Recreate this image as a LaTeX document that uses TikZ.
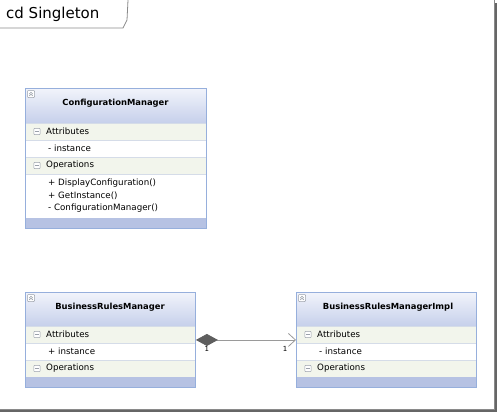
\documentclass[tikz,border=0pt]{standalone}
\usepackage{fontspec}
\setmainfont{DejaVu Sans}
\usetikzlibrary{positioning,arrows.meta}
\definecolor{classborder}{HTML}{96AFDC}
\definecolor{headtop}{HTML}{F2F4FB}
\definecolor{headbot}{HTML}{C6D0EB}
\definecolor{bandfill}{HTML}{F2F5EC}
\definecolor{bandline}{HTML}{D5DCE8}
\definecolor{footfill}{HTML}{B6C2E3}
\definecolor{framegray}{HTML}{8A8A8A}
\definecolor{assocgray}{HTML}{9A9A9A}
\definecolor{diamondgray}{HTML}{5E5E5E}
\definecolor{icongray}{HTML}{9AA0AA}
\begin{document}
\begin{tikzpicture}[x=1pt,y=-1pt,
    font=\fontsize{8.7}{10}\selectfont,
    classbox/.style={draw=classborder, line width=0.9pt, inner sep=0pt, anchor=north west},
    header/.style={top color=headtop, bottom color=headbot},
    band/.style={fill=bandfill},
    foot/.style={fill=footfill},
    sepline/.style={draw=bandline, line width=0.5pt},
    secname/.style={anchor=west, inner sep=0pt, text=black},
    member/.style={anchor=west, inner sep=0pt, text=black},
    classtitle/.style={inner sep=0pt, font=\fontsize{8.4}{10}\selectfont\bfseries, text=black},
    mult/.style={inner sep=0.5pt, font=\fontsize{7}{8}\selectfont},
    assoc/.style={draw=assocgray, line width=0.8pt},
    iconline/.style={draw=icongray, line width=0.5pt}]
      \useasboundingbox (0,0) rectangle (500,415);
      \def\minusbox#1#2{%
        \draw[iconline, fill=white, rounded corners=0.8pt] (#1-3.2,#2-3.2) rectangle (#1+3.2,#2+3.2);
        \draw[iconline, line width=0.7pt] (#1-1.7,#2) -- (#1+1.7,#2);}
      \def\foldbox#1#2{%
        \draw[iconline, fill=white, rounded corners=0.8pt] (#1-3.5,#2-3.5) rectangle (#1+3.5,#2+3.5);
        \draw[iconline, line width=0.6pt] (#1-1.7,#2-0.1) -- (#1,#2-1.7) -- (#1+1.7,#2-0.1)
                                          (#1-1.7,#2+1.8) -- (#1,#2+0.2) -- (#1+1.7,#2+1.8);}
      % Cadre du diagramme
      \draw[black!60, line width=2pt] (496,3) -- (496,411) -- (0,411);
      \draw[framegray, line width=0.7pt] (494.5,0) -- (494.5,409.5) -- (0,409.5);
      \draw[framegray, line width=0.8pt] (0,28) -- (123,28) -- (127,20) -- (128,0);
      \node[anchor=west, inner sep=0pt, font=\fontsize{15}{18}\selectfont] (tab) at (6,14) {cd Singleton};
      % ConfigurationManager
      \shade[header] (25,88) rectangle (206,123);
      \fill[band] (25,123) rectangle (206,140);
      \fill[band] (25,157) rectangle (206,174);
      \fill[foot] (25,218) rectangle (206,228);
      \draw[sepline] (25,123) -- (206,123) (25,140) -- (206,140)
                     (25,157) -- (206,157) (25,174) -- (206,174);
      \node[classbox, minimum width=181pt, minimum height=140pt] (cm) at (25,88) {};
      \foldbox{31}{94}
      \minusbox{37}{131.5}
      \minusbox{37}{165.5}
      \node[classtitle] (cmTitle) at (115.5,103) {ConfigurationManager};
      \node[secname] (cmAttr) at (46,131.5) {Attributes};
      \node[member] (cmInst) at (48,148.5) {- instance};
      \node[secname] (cmOps) at (46,165.5) {Operations};
      \node[member] (cmOp1) at (48,183) {+ DisplayConfiguration()};
      \node[member] (cmOp2) at (48,195.5) {+ GetInstance()};
      \node[member] (cmOp3) at (48,208) {- ConfigurationManager()};
      % BusinessRulesManager
      \shade[header] (25,292) rectangle (195,326);
      \fill[band] (25,326) rectangle (195,343);
      \fill[band] (25,360) rectangle (195,377);
      \fill[foot] (25,377) rectangle (195,387);
      \draw[sepline] (25,326) -- (195,326) (25,343) -- (195,343)
                     (25,360) -- (195,360);
      \node[classbox, minimum width=170pt, minimum height=95pt] (brm) at (25,292) {};
      \foldbox{31}{298}
      \minusbox{37}{334.5}
      \minusbox{37}{368.5}
      \node[classtitle] (brmTitle) at (110,307) {BusinessRulesManager};
      \node[secname] (brmAttr) at (46,334.5) {Attributes};
      \node[member] (brmInst) at (48,351.5) {+ instance};
      \node[secname] (brmOps) at (46,368.5) {Operations};
      % BusinessRulesManagerImpl
      \shade[header] (296,292) rectangle (476,326);
      \fill[band] (296,326) rectangle (476,343);
      \fill[band] (296,360) rectangle (476,377);
      \fill[foot] (296,377) rectangle (476,387);
      \draw[sepline] (296,326) -- (476,326) (296,343) -- (476,343)
                     (296,360) -- (476,360);
      \node[classbox, minimum width=180pt, minimum height=95pt] (brmi) at (296,292) {};
      \foldbox{302}{298}
      \minusbox{308}{334.5}
      \minusbox{308}{368.5}
      \node[classtitle] (brmiTitle) at (388,307) {BusinessRulesManagerImpl};
      \node[secname] (brmiAttr) at (317,334.5) {Attributes};
      \node[member] (brmiInst) at (319,351.5) {- instance};
      \node[secname] (brmiOps) at (317,368.5) {Operations};
      % Composition
      \draw[assoc, {Diamond[length=22pt,width=12pt,fill=diamondgray,color=diamondgray]}-{Straight Barb[length=7pt,width=13pt]}]
            (brm.east) -- (brmi.west);
      \node[mult, below right=6pt and 8pt of brm.east] (mStart) {1};
      \node[mult, below left=6pt and 8pt of brmi.west] (mEnd) {1};
\end{tikzpicture}
\end{document}
